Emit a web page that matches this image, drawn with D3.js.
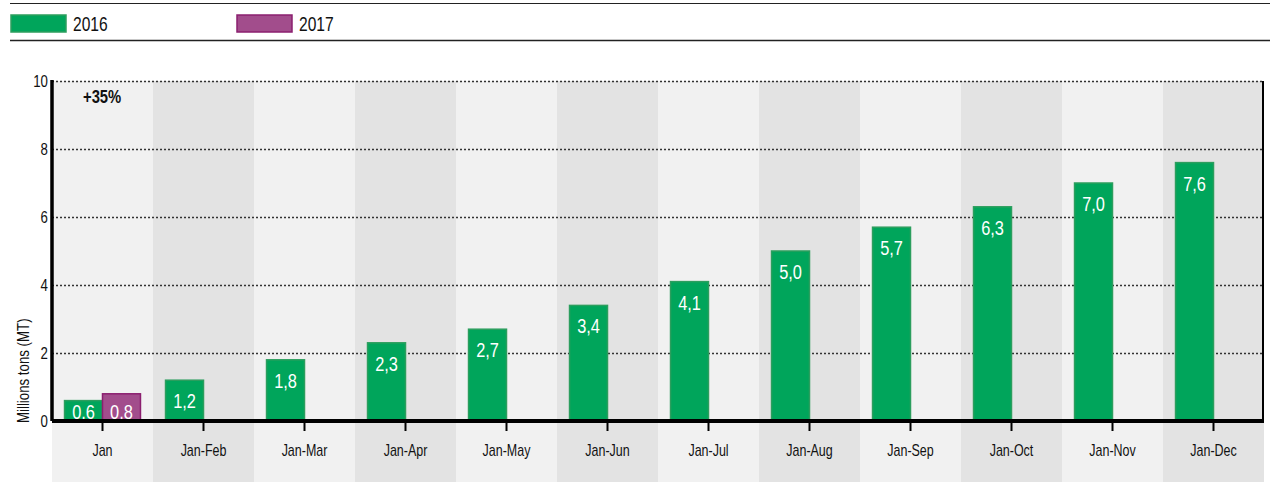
<!DOCTYPE html>
<html>
<head>
<meta charset="utf-8">
<script src="https://cdn.jsdelivr.net/npm/d3@7"></script>
<style>
  body { margin: 0; background: #fff; }
  svg { display: block; font-family: "Liberation Sans", "Roboto", sans-serif; }
</style>
</head>
<body>
<div id="chart"></div>
<script>
// data
const categories = ["Jan", "Jan-Feb", "Jan-Mar", "Jan-Apr", "Jan-May", "Jan-Jun",
                    "Jan-Jul", "Jan-Aug", "Jan-Sep", "Jan-Oct", "Jan-Nov", "Jan-Dec"];
const series = ["2016", "2017"];
const values2016 = [0.6, 1.2, 1.8, 2.3, 2.7, 3.4, 4.1, 5.0, 5.7, 6.3, 7.0, 7.6];
const values2017 = [0.8, null, null, null, null, null, null, null, null, null, null, null];
const yTicks = [0, 2, 4, 6, 8, 10];
const note = "+35%";

const W = 1270, H = 482;
const margin = {top: 81, right: 6, bottom: 61, left: 52};
const fills = {"2016": "#00a55b", "2017": "#a24d8c"};
const strokes = {"2016": "#2c9e5e", "2017": "#8b1f6f"};
const squeeze = 0.78; // condensed look

// text placed at (x,y) and squeezed horizontally
function place(x, y, rot) {
    return "translate(" + x + "," + y + ")" + (rot ? " rotate(" + rot + ")" : "") + " scale(" + squeeze + ",1)";
}

const svg = d3.select("#chart").append("svg")
    .attr("width", W)
    .attr("height", H);

// legend
svg.append("line").attr("x1", 10).attr("x2", W).attr("y1", 3.5).attr("y2", 3.5)
    .attr("stroke", "#222").attr("stroke-width", 1);
svg.append("line").attr("x1", 10).attr("x2", W).attr("y1", 40.5).attr("y2", 40.5)
    .attr("stroke", "#222").attr("stroke-width", 1.5);
const legendX = [11, 237];
series.forEach((s, i) => {
    const g = svg.append("g").attr("transform", "translate(" + legendX[i] + ",15)");
    g.append("rect").attr("width", 55).attr("height", 17)
        .attr("fill", fills[s]).attr("stroke", strokes[s]).attr("stroke-width", 1.5);
    g.append("text").attr("transform", place(62, 16))
        .attr("font-size", 20).attr("fill", "#111").text(s);
});

const width = W - margin.left - margin.right;
const height = H - margin.top - margin.bottom;
const g = svg.append("g").attr("transform", "translate(" + margin.left + "," + margin.top + ")");

const x = d3.scaleBand().domain(categories).range([0, width]).paddingInner(0).paddingOuter(0);
const xSub = d3.scaleBand().domain(series).range([0, x.bandwidth()]).paddingOuter(0.33).paddingInner(0);
const y = d3.scaleLinear().domain([0, 10]).range([height, 0]);

// alternating background bands
g.selectAll(".band").data(categories).enter().append("rect")
    .attr("x", d => x(d))
    .attr("y", 0)
    .attr("width", x.bandwidth())
    .attr("height", H - margin.top)
    .attr("fill", (d, i) => i % 2 === 0 ? "#f1f1f1" : "#e3e3e3");

// gridlines
g.selectAll(".grid").data(yTicks.filter(d => d > 0)).enter().append("line")
    .attr("x1", 0).attr("x2", width)
    .attr("y1", d => y(d) + 0.5).attr("y2", d => y(d) + 0.5)
    .attr("stroke", "#333").attr("stroke-width", 1.3).attr("stroke-dasharray", "2,2");

// bars
const rows = [];
categories.forEach((c, i) => {
    if (values2016[i] != null) rows.push({cat: c, s: "2016", v: values2016[i]});
    if (values2017[i] != null) rows.push({cat: c, s: "2017", v: values2017[i]});
});

g.selectAll(".bar").data(rows).enter().append("rect")
    .attr("x", d => x(d.cat) + xSub(d.s))
    .attr("y", d => y(d.v))
    .attr("width", xSub.bandwidth())
    .attr("height", d => y(0) - y(d.v))
    .attr("fill", d => fills[d.s])
    .attr("stroke", d => strokes[d.s])
    .attr("stroke-width", 1.5);

g.selectAll(".val").data(rows).enter().append("text")
    .attr("transform", d => place(x(d.cat) + xSub(d.s) + xSub.bandwidth() / 2,
                                  Math.min(y(d.v) + 28, y(0) - 2)))
    .attr("text-anchor", "middle")
    .attr("font-size", 21)
    .attr("fill", "#fff")
    .text(d => d3.format(".1f")(d.v).replace(".", ","));

// x axis line and ticks
g.append("line").attr("x1", 0).attr("x2", width).attr("y1", y(0)).attr("y2", y(0))
    .attr("stroke", "#000").attr("stroke-width", 4);
g.selectAll(".xtick").data(categories).enter().append("line")
    .attr("x1", d => x(d) + x.bandwidth() / 2).attr("x2", d => x(d) + x.bandwidth() / 2)
    .attr("y1", y(0)).attr("y2", y(0) + 10)
    .attr("stroke", "#000").attr("stroke-width", 2);
g.selectAll(".xlab").data(categories).enter().append("text")
    .attr("transform", d => place(x(d) + x.bandwidth() / 2, y(0) + 35))
    .attr("text-anchor", "middle")
    .attr("font-size", 16)
    .attr("fill", "#111")
    .text(d => d);

// y axis
g.append("line").attr("x1", 0).attr("x2", 0).attr("y1", -1).attr("y2", y(0))
    .attr("stroke", "#000").attr("stroke-width", 3.5);
g.append("line").attr("x1", width - 1).attr("x2", width - 1).attr("y1", 0).attr("y2", y(0))
    .attr("stroke", "#000").attr("stroke-width", 2);
g.selectAll(".ylab").data(yTicks).enter().append("text")
    .attr("transform", d => place(-4, y(d) + 6))
    .attr("text-anchor", "end")
    .attr("font-size", 17)
    .attr("fill", "#111")
    .text(d => d);

svg.append("text")
    .attr("transform", "translate(29," + (margin.top + y(0) + 2) + ") rotate(-90) scale(" + squeeze + ",1)")
    .attr("text-anchor", "start")
    .attr("font-size", 17)
    .attr("fill", "#111")
    .text("Millions tons (MT)");

g.append("text").attr("transform", place(31, 22))
    .attr("font-size", 19).attr("font-weight", "bold").attr("fill", "#111")
    .text(note);
</script>
</body>
</html>
